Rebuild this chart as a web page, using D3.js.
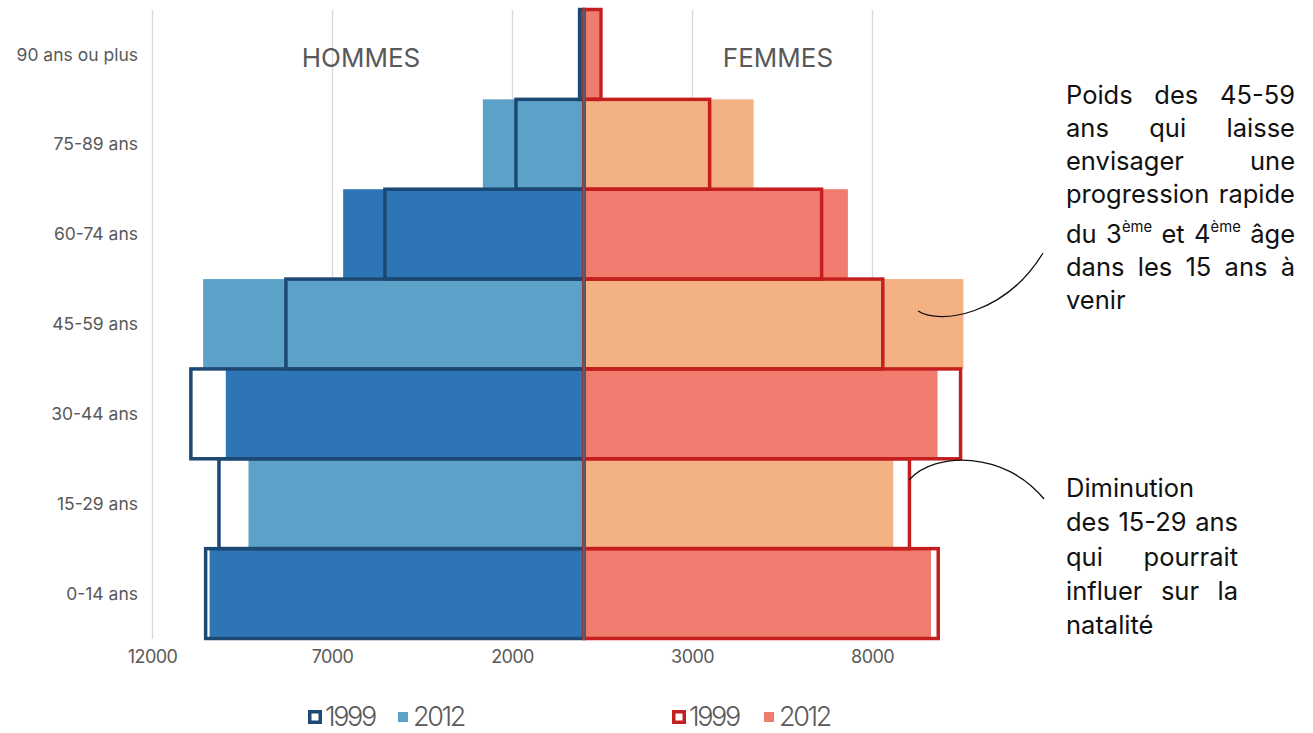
<!DOCTYPE html>
<html><head><meta charset="utf-8">
<script src="https://cdn.jsdelivr.net/npm/d3@7"></script>
<style>
body{margin:0;background:#fff}
svg{display:block}
text{font-family:Inter,"Noto Sans",sans-serif}
</style>
</head><body>
<svg id="chart" width="1313" height="733"></svg>
<script>
// Population by age group (bottom to top of the pyramid)
const ageGroups = ["0-14 ans", "15-29 ans", "30-44 ans", "45-59 ans", "60-74 ans", "75-89 ans", "90 ans ou plus"];
const hommes1999 = [10510, 10140, 10920, 8280, 5530, 1890, 120];
const hommes2012 = [10400, 9320, 9950, 10580, 6690, 2810, 170];
const femmes1999 = [9840, 9040, 10460, 8300, 6600, 3490, 470];
const femmes2012 = [9640, 8590, 9820, 10540, 7330, 4710, 430];
const tickValues = [-12000, -7000, -2000, 3000, 8000];
const sideLabels = ["HOMMES", "FEMMES"];
const years = ["1999", "2012"];

const noteAinee = [
  [["Poids"], ["des"], ["45-59"]],
  [["ans"], ["qui"], ["laisse"]],
  [["envisager"], ["une"]],
  [["progression"], ["rapide"]],
  [["du"], ["3", "ème"], ["et"], ["4", "ème"], ["âge"]],
  [["dans"], ["les"], ["15"], ["ans"], ["à"]],
  [["venir"]]
];
const noteJeunes = [
  [["Diminution"]],
  [["des"], ["15-29"], ["ans"]],
  [["qui"], ["pourrait"]],
  [["influer"], ["sur"], ["la"]],
  [["natalité"]]
];

const svg = d3.select("#chart");
const grey = "#595959";
const col = {
  hDark: "#2e75b6", hLight: "#5ca1c7", hLine: "#1c4874",
  fDark: "#f07c70", fLight: "#f4b183", fLine: "#c41e1e"
};

const x = d3.scaleLinear().domain([-12000, 13000]).range([152, 1052]);
const y = d3.scaleBand().domain(ageGroups.slice().reverse()).range([9.5, 638.5]).padding(0);

// grid + tick labels
const axis = svg.append("g").attr("transform", "translate(0,639)")
  .call(d3.axisBottom(x).tickValues(tickValues).tickSize(-629).tickPadding(11)
    .tickFormat(d => String(Math.abs(d))));
axis.select(".domain").remove();
axis.selectAll(".tick line").attr("stroke", "#d9d9d9").attr("stroke-width", 1.3);
axis.selectAll(".tick text").attr("fill", grey).attr("font-size", 18).attr("letter-spacing", -0.6);

// age labels
svg.append("g").selectAll("text").data(ageGroups).join("text")
  .attr("x", 138).attr("y", d => y(d) + y.bandwidth() / 2)
  .attr("dy", "0.35em").attr("text-anchor", "end")
  .attr("fill", grey).attr("font-size", 17.5)
  .text(d => d);

// side titles
svg.append("g").selectAll("text").data(sideLabels).join("text")
  .attr("x", (d, i) => i === 0 ? 361 : 778).attr("y", 67)
  .attr("text-anchor", "middle").attr("fill", grey).attr("font-size", 26)
  .text(d => d);

const rows = ageGroups.map((g, i) => ({
  g, i, h99: hommes1999[i], h12: hommes2012[i], f99: femmes1999[i], f12: femmes2012[i]
}));

// 2012 filled bars
svg.append("g").selectAll("rect").data(rows).join("rect")
  .attr("x", d => x(-d.h12)).attr("y", d => y(d.g))
  .attr("width", d => x(0) - x(-d.h12)).attr("height", y.bandwidth())
  .attr("fill", d => d.i % 2 === 0 ? col.hDark : col.hLight);
svg.append("g").selectAll("rect").data(rows).join("rect")
  .attr("x", x(0)).attr("y", d => y(d.g))
  .attr("width", d => x(d.f12) - x(0)).attr("height", y.bandwidth())
  .attr("fill", d => d.i % 2 === 0 ? col.fDark : col.fLight);

// 1999 outlined bars
svg.append("g").selectAll("rect").data(rows).join("rect")
  .attr("x", d => x(-d.h99)).attr("y", d => y(d.g))
  .attr("width", d => x(0) - x(-d.h99)).attr("height", y.bandwidth())
  .attr("fill", "none").attr("stroke", col.hLine).attr("stroke-width", 3.5);
svg.append("g").selectAll("rect").data(rows).join("rect")
  .attr("x", x(0)).attr("y", d => y(d.g))
  .attr("width", d => x(d.f99) - x(0)).attr("height", y.bandwidth())
  .attr("fill", "none").attr("stroke", col.fLine).attr("stroke-width", 3.5);

// central axis
svg.append("line")
  .attr("x1", x(0)).attr("x2", x(0)).attr("y1", 9.5).attr("y2", 640)
  .attr("stroke", "#56606a").attr("stroke-width", 2.5);

// legend
const legendItems = [
  {x: 308, year: years[0], outline: col.hLine},
  {x: 398, year: years[1], fill: col.hLight},
  {x: 672, year: years[0], outline: col.fLine},
  {x: 764, year: years[1], fill: col.fDark}
];
const lg = svg.append("g").selectAll("g").data(legendItems).join("g")
  .attr("transform", d => `translate(${d.x},0)`);
lg.filter(d => d.outline).append("rect")
  .attr("x", 1.75).attr("y", 711.75).attr("width", 10.5).attr("height", 10.5)
  .attr("fill", "#fff").attr("stroke", d => d.outline).attr("stroke-width", 3.5);
lg.filter(d => d.fill).append("rect")
  .attr("x", 0).attr("y", 712).attr("width", 10).attr("height", 10)
  .attr("fill", d => d.fill);
lg.append("text")
  .attr("x", d => d.outline ? 17 : 15).attr("y", 726)
  .attr("fill", grey).attr("font-size", 27).attr("font-weight", 300)
  .attr("letter-spacing", -2.4)
  .text(d => d.year);

// justified annotation blocks
function noteBlock(lines, x0, width, y0, lineStep, extra) {
  const g = svg.append("g");
  const fs = 25.5;
  let yy = y0;
  lines.forEach((words, li) => {
    if (li > 0) yy += lineStep + (extra[li] || 0);
    const nodes = words.map(parts => {
      const t = g.append("text").attr("y", yy).attr("font-size", fs).attr("fill", "#111");
      t.append("tspan").text(parts[0]);
      if (parts[1]) t.append("tspan").attr("font-size", fs * 0.58).attr("dy", -fs * 0.42).text(parts[1]);
      return t;
    });
    const widths = nodes.map(n => n.node().getComputedTextLength());
    const total = d3.sum(widths);
    const last = li === lines.length - 1 || nodes.length === 1;
    const gap = last ? fs * 0.28 : (width - total) / (nodes.length - 1);
    let cx = x0;
    nodes.forEach((n, k) => { n.attr("x", cx); cx += widths[k] + gap; });
  });
}
noteBlock(noteAinee, 1066, 229, 104, 33, {4: 7});
noteBlock(noteJeunes, 1066, 172, 497, 34.3, {});

// connector curves
svg.append("path").attr("d", "M918,311 C940,325 1005,315 1043,253")
  .attr("fill", "none").attr("stroke", "#111").attr("stroke-width", 1.3);
svg.append("path").attr("d", "M909,480 C935,451 1005,451 1044,499")
  .attr("fill", "none").attr("stroke", "#111").attr("stroke-width", 1.3);
</script>
</body></html>
